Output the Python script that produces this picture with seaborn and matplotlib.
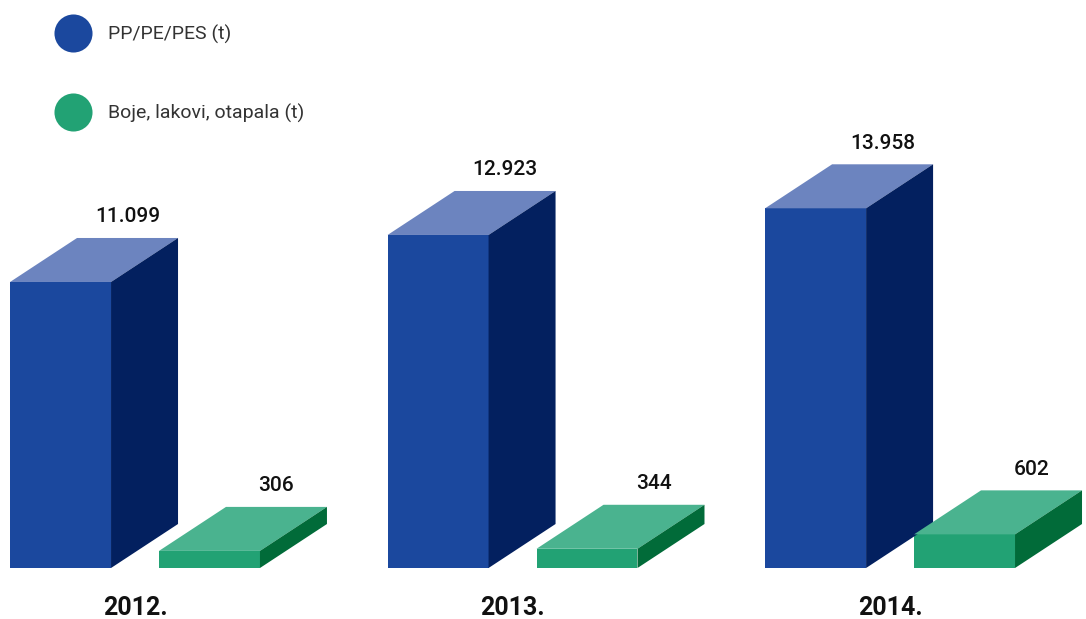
import numpy as np
import pandas as pd
import matplotlib
matplotlib.use("Agg")
import matplotlib.pyplot as plt
import seaborn as sns
from matplotlib.patches import Polygon
from matplotlib.lines import Line2D
from matplotlib.transforms import IdentityTransform

# data
years = ["2012.", "2013.", "2014."]
plastic = [11099, 12923, 13958]
paint = [306, 344, 602]
series_names = ["PP/PE/PES (t)", "Boje, lakovi, otapala (t)"]

# front / top / side colours for each series
front_cols = ["#1b489e", "#22a274"]
top_cols = ["#6c84bf", "#4ab38f"]
side_cols = ["#03205f", "#016b39"]

sns.set_style("white")
plt.rcParams["font.family"] = ["Roboto", "DejaVu Sans"]

df = pd.DataFrame({
    "year": years * 2,
    "series": [series_names[0]] * 3 + [series_names[1]] * 3,
    "value": plastic + paint,
})

W, H = 1086, 619
fig = plt.figure(figsize=(W / 100, H / 100), dpi=100)
ax = fig.add_axes([0, 51 / H, 1, 568 / H])
ax2 = ax.twinx()

pal = dict(zip(series_names, front_cols))
common = dict(x="year", y="value", hue="series", hue_order=series_names, order=years,
              palette=pal, width=0.789, gap=0.322, dodge=True, saturation=1,
              errorbar=None, legend=False, linewidth=0)
# plastic on the main axis, paints on a twin axis with its own scale
sns.barplot(data=df[df.series == series_names[0]], ax=ax, **common)
sns.barplot(data=df[df.series == series_names[1]], ax=ax2, **common)

ax.set_xlim(-0.3576, 2.519)
ax.set_ylim(0, 568 / 0.02577)
ax2.set_ylim(0, 568 * 17.9)

for a in (ax, ax2):
    a.set_xlabel("")
    a.set_ylabel("")
    a.set_yticks([])
    for s in a.spines.values():
        s.set_visible(False)

ax.tick_params(axis="x", length=0, pad=20)
for t in ax.get_xticklabels():
    t.set_fontsize(18)
    t.set_fontweight("bold")
    t.set_color("#111111")

# fake 3D: top and side faces in pixel space
dx, dy = 67, 44
for a, idx in ((ax, 0), (ax2, 1)):
    for p in a.patches:
        if p.get_height() <= 0:
            continue
        (xl, yb), (xr, yt) = a.transData.transform(
            [(p.get_x(), p.get_y()), (p.get_x() + p.get_width(), p.get_y() + p.get_height())])
        top = Polygon([(xl, yt), (xr, yt), (xr + dx, yt + dy), (xl + dx, yt + dy)],
                      closed=True, transform=IdentityTransform(), facecolor=top_cols[idx],
                      edgecolor="none", zorder=3)
        side = Polygon([(xr, yb), (xr, yt), (xr + dx, yt + dy), (xr + dx, yb + dy)],
                       closed=True, transform=IdentityTransform(), facecolor=side_cols[idx],
                       edgecolor="none", zorder=3)
        fig.add_artist(top)
        fig.add_artist(side)
        label = f"{int(round(p.get_height())):,}".replace(",", ".")
        a.annotate(label, xy=(p.get_x() + p.get_width() / 2, p.get_height()),
                   xytext=(dx * 0.72, 65 * 0.72), textcoords="offset points",
                   ha="center", va="center", fontsize=15, fontweight="medium",
                   color="#111111", annotation_clip=False)

handles = [Line2D([], [], marker="o", ls="", markersize=27.4, color=c, markeredgewidth=0)
           for c in front_cols]
fig.legend(handles, series_names, loc="upper left", bbox_to_anchor=(54 / W, 1 - 25 / H),
           frameon=False, borderpad=0, borderaxespad=0, handlelength=2, handletextpad=0.8,
           labelspacing=3.07, labelcolor="#333333",
           prop={"family": ["Roboto", "DejaVu Sans"], "weight": "normal", "size": 14})

fig.savefig("out.png", dpi=100)
